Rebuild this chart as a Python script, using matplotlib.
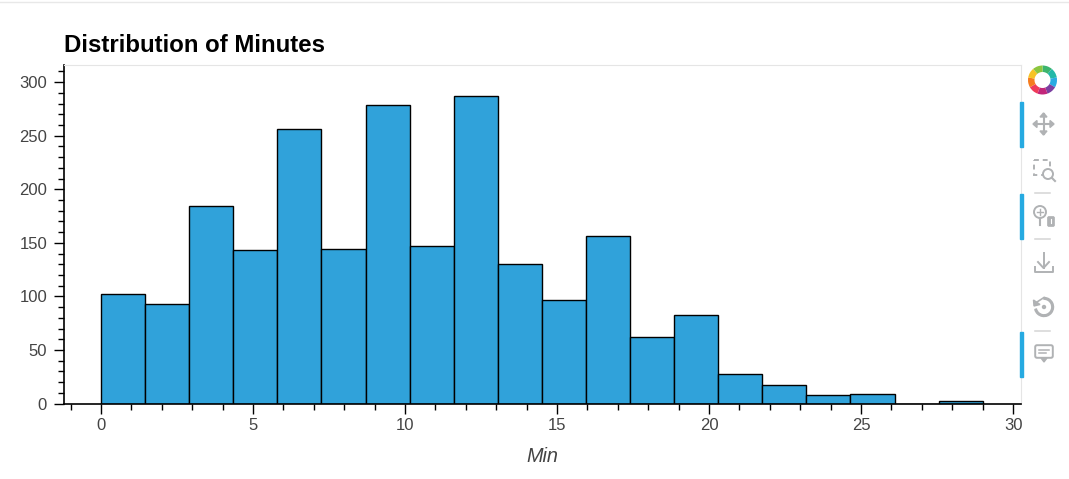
import matplotlib
matplotlib.use('Agg')
import matplotlib.pyplot as plt
from matplotlib.patches import Wedge, Rectangle, Circle, FancyBboxPatch, Polygon
from matplotlib.ticker import MultipleLocator

plt.rcParams['font.family'] = ['Liberation Sans', 'DejaVu Sans']

bin_edges = [0, 1.45, 2.9, 4.35, 5.8, 7.25, 8.7, 10.15, 11.6, 13.05, 14.5,
             15.95, 17.4, 18.85, 20.3, 21.75, 23.2, 24.65, 26.1, 27.55, 29]
counts = [102, 93, 184, 143, 256, 144, 279, 147, 287, 130, 97, 156, 62, 83,
          28, 17, 8, 9, 0, 2]
x_ticks = [0, 5, 10, 15, 20, 25, 30]
y_ticks = [0, 50, 100, 150, 200, 250, 300]
logo_colors = ['#3cb46e', '#22b8a8', '#29abe2', '#7b3fa0', '#c2267a',
               '#ef3b5a', '#f57c1f', '#f7c325', '#8cc63f']

W, H = 1069, 479
GREY = '#b0b2b4'

fig = plt.figure(figsize=(W / 100, H / 100), dpi=100)


def px_axes(left, top, right, bottom):
    return [left / W, 1 - bottom / H, (right - left) / W, (bottom - top) / H]


ax = fig.add_axes(px_axes(64, 65, 1021, 403.5))
ax.bar(bin_edges[:-1], counts, width=[b - a for a, b in zip(bin_edges, bin_edges[1:])],
       align='edge', color='#30a2da', edgecolor='black', linewidth=1.0)
ax.set_xlim(-1.22, 30.26)
ax.set_ylim(0, 316)
ax.set_xticks(x_ticks)
ax.set_yticks(y_ticks)
ax.xaxis.set_minor_locator(MultipleLocator(1))
ax.yaxis.set_minor_locator(MultipleLocator(10))
ax.tick_params(axis='both', which='major', direction='out', length=7.2, width=1.0,
               labelsize=12, labelcolor='#444444', pad=5)
ax.tick_params(axis='x', which='major', pad=3)
ax.tick_params(axis='both', which='minor', direction='out', length=4.5, width=1.0)
for side in ['left', 'bottom']:
    ax.spines[side].set_linewidth(1.2)
for side in ['top', 'right']:
    ax.spines[side].set_color('#e5e5e5')
ax.set_xlabel('Min', fontsize=14.3, style='italic', color='#444444', labelpad=10)
ax.set_title('Distribution of Minutes', loc='left', fontsize=17.3, fontweight='bold', pad=9)

# page rule and toolbar, in pixel coordinates
ov = fig.add_axes([0, 0, 1, 1], zorder=5)
ov.set_xlim(0, W)
ov.set_ylim(H, 0)
ov.axis('off')
ov.plot([0, W], [2, 2], color='#e8e8e8', lw=1)

for i, c in enumerate(logo_colors):
    ov.add_patch(Wedge((1042.5, 80), 14.5, -90 + i * 40, -50 + i * 40, width=6.5, facecolor=c))

for top, bottom in [(102, 147), (194, 239), (332, 377)]:
    ov.add_patch(Rectangle((1020, top), 3, bottom - top, color='#26aae1'))
for y in [193, 239, 331]:
    ov.plot([1035, 1050], [y, y], color='#d4d4d4', lw=1.1)

# pan
ov.plot([1034, 1053], [124, 124], color=GREY, lw=1.5)
ov.plot([1043.5, 1043.5], [114, 134], color=GREY, lw=1.5)
for pts in [[(1033, 124), (1037, 120.5), (1037, 127.5)], [(1054, 124), (1050, 120.5), (1050, 127.5)],
            [(1043.5, 113), (1040, 117), (1047, 117)], [(1043.5, 135), (1040, 131), (1047, 131)]]:
    ov.add_patch(Polygon(pts, color=GREY))
# box zoom
ov.add_patch(Rectangle((1034, 160), 16, 15, fill=False, ec=GREY, lw=1.4, ls=(0, (2.5, 2))))
ov.add_patch(Circle((1048, 174), 5, fc='white', ec=GREY, lw=1.4))
ov.plot([1052, 1055], [178, 181], color=GREY, lw=1.5)
# wheel zoom
ov.add_patch(Circle((1040, 212), 6, fill=False, ec=GREY, lw=1.4))
ov.plot([1040, 1040], [209, 215], color=GREY, lw=1)
ov.plot([1037, 1043], [212, 212], color=GREY, lw=1)
ov.plot([1040, 1040], [218, 225], color=GREY, lw=1.5)
ov.add_patch(FancyBboxPatch((1049, 218), 4, 7, boxstyle='round,pad=1.5', fc=GREY, ec=GREY, lw=0.5))
ov.plot([1051, 1051], [219, 223], color='white', lw=0.8)
# save
ov.plot([1043.5, 1043.5], [253, 268], color=GREY, lw=1.4)
ov.plot([1038, 1043.5, 1049], [262, 268, 262], color=GREY, lw=1.4)
ov.plot([1035, 1035, 1053, 1053], [267, 272, 272, 267], color=GREY, lw=1.4)
# reset
ov.add_patch(Wedge((1044, 307), 9.5, -90, 165, width=1.7, color=GREY))
ov.add_patch(Circle((1044, 307), 1.5, color=GREY))
ov.add_patch(Polygon([(1033.5, 300), (1034, 306), (1040, 304.5)], color=GREY))
ov.plot([1037, 1044], [302, 297.5], color=GREY, lw=1.2)
# help
ov.add_patch(FancyBboxPatch((1037, 347), 14, 9, boxstyle='round,pad=1.8', fill=False, ec=GREY, lw=1.4))
ov.plot([1039, 1049], [349.5, 349.5], color=GREY, lw=1.1)
ov.plot([1039, 1046], [353, 353], color=GREY, lw=1.1)
ov.add_patch(Polygon([(1041, 358), (1047, 358), (1044, 362)], color=GREY))

fig.savefig('out.png', dpi=100)
